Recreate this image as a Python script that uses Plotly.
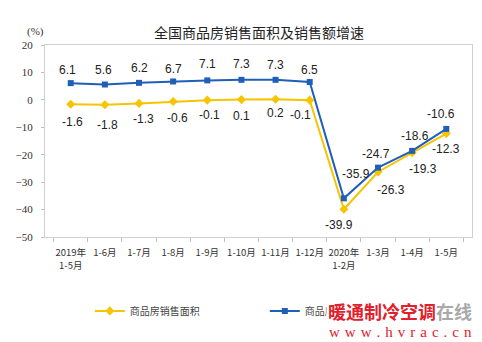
import plotly.graph_objects as go

categories = ["2019年<br>1-5月", "1-6月", "1-7月", "1-8月", "1-9月", "1-10月",
              "1-11月", "1-12月", "2020年<br>1-2月", "1-3月", "1-4月", "1-5月"]
cat_keys = [f"c{i}" for i in range(len(categories))]
area_growth = [-1.6, -1.8, -1.3, -0.6, -0.1, 0.1, 0.2, -0.1, -39.9, -26.3, -19.3, -12.3]
sales_growth = [6.1, 5.6, 6.2, 6.7, 7.1, 7.3, 7.3, 6.5, -35.9, -24.7, -18.6, -10.6]
y_ticks = [20, 10, 0, -10, -20, -30, -40, -50]
series_names = ["商品房销售面积", "商品房销售额"]

# label offsets (pixels): style only
sales_lbl_off = [(-3, 13), (-1, 15), (0, 15), (0, 12), (0, 16), (0, 16), (0, 15), (0, 12),
                 (12, 24), (-2, 14), (3, 15), (-5, 15)]
area_lbl_off = [(2, -18), (3, -20), (4, -16), (4, -16), (2, -15), (0, -16), (0, -14), (-9, -15),
                (-5, -16), (13, -18), (11, -16), (0, -15)]

YELLOW = "#F6C400"
BLUE = "#1F5FB8"

fig = go.Figure()
fig.add_trace(go.Scatter(
    x=cat_keys, y=area_growth, name=series_names[0], mode="lines+markers",
    line=dict(color=YELLOW, width=2),
    marker=dict(symbol="diamond", size=7, color=YELLOW)))
fig.add_trace(go.Scatter(
    x=cat_keys, y=sales_growth, name=series_names[1], mode="lines+markers",
    line=dict(color=BLUE, width=2),
    marker=dict(symbol="square", size=6, color=BLUE)))

ann = []
lbl_font = dict(family="Liberation Sans, Arial", size=12, color="#222222")
for k, v, (dx, dy) in zip(cat_keys, sales_growth, sales_lbl_off):
    ann.append(dict(x=k, y=v, xref="x", yref="y", text=f"{v:g}", showarrow=False,
                    xshift=dx, yshift=dy, font=lbl_font))
for k, v, (dx, dy) in zip(cat_keys, area_growth, area_lbl_off):
    ann.append(dict(x=k, y=v, xref="x", yref="y", text=f"{v:g}", showarrow=False,
                    xshift=dx, yshift=dy, font=lbl_font))

ann.append(dict(x=-0.047, y=1.115, xref="paper", yref="paper", text="(%)", showarrow=False,
                font=dict(family="Liberation Serif", size=11, color="#333333")))

# watermark
ann.append(dict(x=0.659, y=-0.385, xref="paper", yref="paper", xanchor="left", yanchor="middle",
                text="<b><span style='color:#E0202C'>暖通制冷空调</span><span style='color:#A9A9A9'>在线</span></b>",
                showarrow=False, bgcolor="white", borderpad=1,
                font=dict(family="Noto Sans CJK SC", size=18)))
ann.append(dict(x=0.661, y=-0.495, xref="paper", yref="paper", xanchor="left", yanchor="middle",
                text="w\u2004w\u2004w\u2004.\u2004h\u2004v\u2004r\u2004a\u2004c\u2004.\u2004c\u2004n",
                showarrow=False,
                font=dict(family="Liberation Serif", size=15, color="#E0202C")))

fig.update_layout(
    width=482, height=342,
    margin=dict(l=45, r=10, t=45, b=105),
    paper_bgcolor="white", plot_bgcolor="white",
    title=dict(text="全国商品房销售面积及销售额增速", x=0.501, xref="paper", xanchor="center",
               y=1 - 33 / 342, yanchor="middle",
               font=dict(family="Noto Sans CJK SC", size=14, color="#222222")),
    xaxis=dict(type="category", tickmode="array", tickvals=cat_keys, ticktext=categories,
               tickson="boundaries", ticks="outside", ticklen=4, tickcolor="#BFBFBF",
               showline=True, linecolor="#D0D0D0", linewidth=1, mirror=True,
               showgrid=False, zeroline=False, tickangle=0, ticklabelstandoff=7,
               tickfont=dict(family="Noto Sans CJK SC", size=9.5, color="#333333")),
    yaxis=dict(range=[-50, 20], tickmode="array", tickvals=y_ticks,
               ticks="outside", ticklen=3, tickcolor="#BFBFBF",
               showline=True, linecolor="#D0D0D0", linewidth=1, mirror=True,
               showgrid=False, zeroline=False, ticklabelstandoff=6,
               tickfont=dict(family="Liberation Serif", size=11, color="#333333")),
    legend=dict(orientation="h", x=0.105, y=-0.385, xanchor="left", yanchor="middle",
                entrywidth=130, font=dict(family="Noto Sans CJK SC", size=10, color="#444444"),
                bgcolor="rgba(0,0,0,0)"),
    annotations=ann,
    showlegend=True,
)
fig.write_html("out.html")
